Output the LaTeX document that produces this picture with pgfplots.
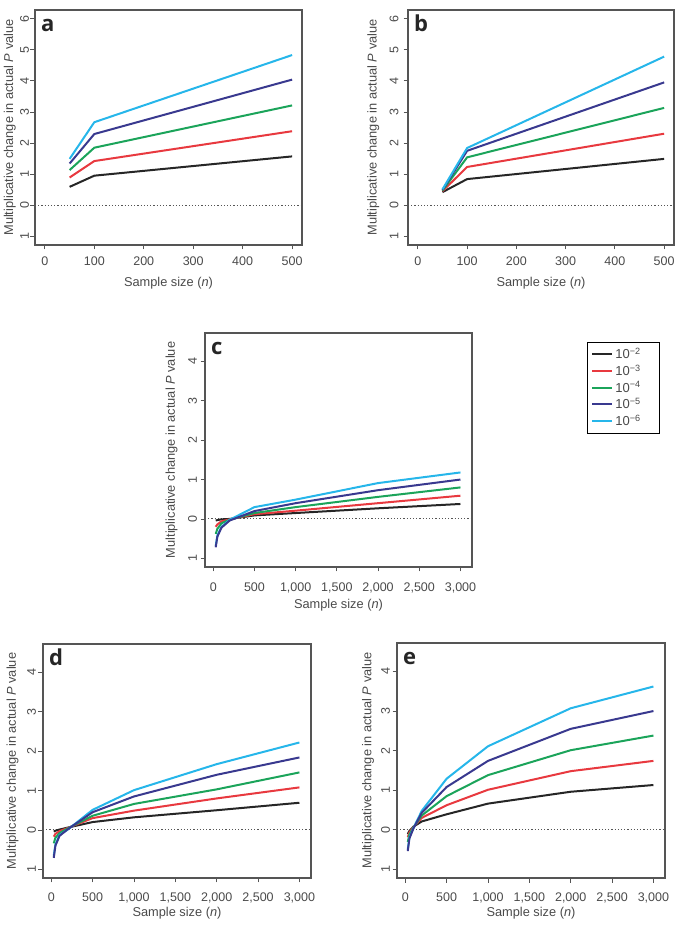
\documentclass[border=0pt]{standalone}
\usepackage{fontspec}
\setmainfont{Liberation Sans}
\newfontfamily\letterfont{Open Sans}
\usepackage{pgfplots}
\pgfplotsset{compat=1.18}

\definecolor{txtgray}{HTML}{4A4A4A}
\definecolor{boxgray}{HTML}{555555}
\definecolor{cblack}{HTML}{262626}
\definecolor{cred}{HTML}{E8393F}
\definecolor{cgreen}{HTML}{1BA45A}
\definecolor{cnavy}{HTML}{39398F}
\definecolor{ccyan}{HTML}{26B6EA}

\pgfplotsset{
  panel/.style={
    scale only axis, anchor=south west,
    axis line style={boxgray, line width=1.5pt},
    tick style={boxgray, line width=0.8pt},
    tick align=outside, major tick length=4.5pt,
    xtick pos=bottom, ytick pos=left,
    /pgf/number format/assume math mode=true,
    tick label style={font=\fontsize{12.5}{14}\selectfont, text=txtgray},
    label style={font=\fontsize{12.8}{14}\selectfont, text=txtgray},
    yticklabel style={rotate=90, anchor=south},
    xlabel={Sample size (\textit{n})},
    ylabel={Multiplicative change in actual \textit{P} value},
    every axis plot/.append style={line width=2pt},
  },
  small/.style={
    width=267pt, height=235pt,
    xmin=-20, xmax=520, ymin=-1.28, ymax=6.28,
    xtick={0,100,...,500}, xticklabels={0,100,200,300,400,500},
    ytick={-1,0,...,6}, yticklabels={1,0,1,2,3,4,5,6},
  },
  big/.style={
    width=267pt, height=234pt,
    xmin=-100, xmax=3140, ymin=-1.22, ymax=4.72,
    xtick={0,500,...,3000}, xticklabels={0,500,{1,000},{1,500},{2,000},{2,500},{3,000}},
    ytick={-1,0,...,4}, yticklabels={1,0,1,2,3,4},
  },
  labpos/.style 2 args={
    ylabel style={at={(axis description cs:#1,0.5)}, anchor=center},
    xlabel style={at={(axis description cs:0.5,#2)}, anchor=center},
  },
  zeroline/.style={forget plot, boxgray, line width=0.9pt, dash pattern=on 1.2pt off 2pt},
}
\newcommand{\panel}[1]{\node[anchor=base west, inner sep=0pt, xshift=6pt, yshift=-21.5pt,
  font=\letterfont\bfseries\fontsize{22}{22}\selectfont, text=black!85] at (rel axis cs:0,1) {#1};}
\newcommand{\legtxt}[1]{\makebox[38pt][l]{10\textsuperscript{−#1}}}

\begin{document}
\begin{tikzpicture}
\path[use as bounding box] (0,0) rectangle (685pt,929pt);

% a
\begin{axis}[panel, small, at={(35pt,684pt)}, labpos={-0.094}{-0.162},
  xticklabel shift=3.5pt, yticklabel shift=-2pt]
\addplot[zeroline] coordinates {(-20,0) (520,0)};
\addplot[cblack] coordinates {(50,0.59) (100,0.95) (500,1.57)};
\addplot[cred] coordinates {(50,0.89) (100,1.42) (500,2.38)};
\addplot[cgreen] coordinates {(50,1.13) (100,1.85) (500,3.21)};
\addplot[cnavy] coordinates {(50,1.34) (100,2.29) (500,4.04)};
\addplot[ccyan] coordinates {(50,1.49) (100,2.67) (500,4.83)};
\panel{a}
\end{axis}

% b
\begin{axis}[panel, small, at={(408pt,684pt)}, width=266pt, labpos={-0.130}{-0.162},
  xticklabel shift=3.5pt, yticklabel shift=1.5pt]
\addplot[zeroline] coordinates {(-20,0) (520,0)};
\addplot[cblack] coordinates {(50,0.42) (100,0.84) (500,1.49)};
\addplot[cred] coordinates {(50,0.45) (100,1.23) (500,2.30)};
\addplot[cgreen] coordinates {(50,0.47) (100,1.54) (500,3.13)};
\addplot[cnavy] coordinates {(50,0.49) (100,1.75) (500,3.95)};
\addplot[ccyan] coordinates {(50,0.51) (100,1.84) (500,4.78)};
\panel{b}
\end{axis}

% c
\begin{axis}[panel, big, at={(205pt,362pt)}, labpos={-0.125}{-0.165},
  xticklabel shift=8pt, yticklabel shift=0pt,
  legend style={at={(1.431,0.962)}, anchor=north west, draw=black, line width=0.6pt,
    font=\fontsize{13}{15}\selectfont, text=txtgray, row sep=0.5pt, inner xsep=4pt, inner ysep=4pt},
  legend cell align=left,
  legend image code/.code={\draw[#1, line width=2pt] (0pt,0pt) -- (20pt,0pt);},
]
\addplot[zeroline] coordinates {(-100,0) (3140,0)};
\addplot[cblack] coordinates {(30,-0.04) (50,-0.03) (100,-0.01) (200,0.0) (500,0.09) (1000,0.15) (2000,0.27) (3000,0.38)};
\addplot[cred] coordinates {(30,-0.20) (50,-0.14) (100,-0.06) (200,-0.01) (500,0.12) (1000,0.21) (2000,0.40) (3000,0.59)};
\addplot[cgreen] coordinates {(30,-0.38) (50,-0.25) (100,-0.11) (200,-0.02) (500,0.15) (1000,0.30) (2000,0.56) (3000,0.80)};
\addplot[ccyan, forget plot] coordinates {(30,-0.68) (50,-0.42) (100,-0.20) (200,-0.02) (500,0.30) (1000,0.49) (2000,0.91) (3000,1.18)};
\addplot[cnavy] coordinates {(30,-0.72) (50,-0.45) (100,-0.22) (200,-0.04) (500,0.20) (1000,0.40) (2000,0.73) (3000,1.00)};
\addlegendimage{ccyan}
\legend{\legtxt{2}, \legtxt{3}, \legtxt{4}, \legtxt{5}, \legtxt{6}}
\panel{c}
\end{axis}

% d
\begin{axis}[panel, big, at={(43pt,51pt)}, width=268pt, labpos={-0.114}{-0.150},
  xticklabel shift=6.5pt, yticklabel shift=-1pt]
\addplot[zeroline] coordinates {(-100,0) (3140,0)};
\addplot[cblack] coordinates {(30,-0.04) (50,-0.02) (100,0.01) (200,0.06) (500,0.20) (1000,0.32) (2000,0.50) (3000,0.69)};
\addplot[cred] coordinates {(30,-0.17) (50,-0.10) (100,-0.03) (200,0.05) (500,0.30) (1000,0.49) (2000,0.80) (3000,1.08)};
\addplot[cgreen] coordinates {(30,-0.34) (50,-0.20) (100,-0.08) (200,0.04) (500,0.36) (1000,0.66) (2000,1.03) (3000,1.46)};
\addplot[ccyan] coordinates {(30,-0.66) (50,-0.37) (100,-0.13) (200,0.01) (500,0.51) (1000,1.01) (2000,1.67) (3000,2.22)};
\addplot[cnavy] coordinates {(30,-0.71) (50,-0.40) (100,-0.15) (200,0.02) (500,0.45) (1000,0.85) (2000,1.40) (3000,1.84)};
\panel{d}
\end{axis}

% e
\begin{axis}[panel, big, at={(397pt,51pt)}, width=268pt, height=235pt, labpos={-0.108}{-0.148},
  xticklabel shift=6.5pt, yticklabel shift=-1pt]
\addplot[zeroline] coordinates {(-100,0) (3140,0)};
\addplot[cblack] coordinates {(30,-0.11) (50,-0.03) (100,0.08) (200,0.21) (500,0.39) (1000,0.66) (2000,0.96) (3000,1.13)};
\addplot[cred] coordinates {(30,-0.19) (50,-0.07) (100,0.07) (200,0.30) (500,0.62) (1000,1.01) (2000,1.48) (3000,1.74)};
\addplot[cgreen] coordinates {(30,-0.31) (50,-0.12) (100,0.06) (200,0.36) (500,0.85) (1000,1.38) (2000,2.01) (3000,2.38)};
\addplot[ccyan] coordinates {(30,-0.50) (50,-0.20) (100,0.05) (200,0.48) (500,1.29) (1000,2.11) (2000,3.07) (3000,3.62)};
\addplot[cnavy] coordinates {(30,-0.54) (50,-0.22) (100,0.04) (200,0.43) (500,1.08) (1000,1.74) (2000,2.55) (3000,3.00)};
\panel{e}
\end{axis}
\end{tikzpicture}
\end{document}
